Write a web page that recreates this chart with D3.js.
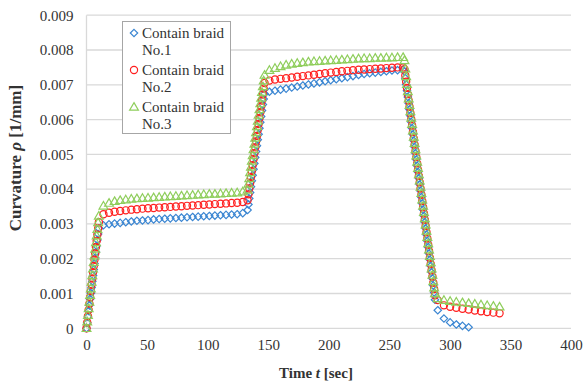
<!DOCTYPE html>
<html>
<head>
<meta charset="utf-8">
<script src="https://cdn.jsdelivr.net/npm/d3@7"></script>
<style>
  body { margin: 0; background: #fff; }
  svg { display: block; }
  svg text { font-family: "Liberation Serif", "DejaVu Serif", serif; }
</style>
</head>
<body>
<div id="chart"></div>
<script>
// time axis shared by the three runs [sec]
var timeSec = [
  0, 0.6, 1.2, 1.8, 2.4, 3.0, 3.6, 4.2, 4.8, 5.4, 6.0, 6.6, 7.2, 7.8, 8.4, 9.0, 9.6, 10.2,
  14, 18.6, 23.2, 27.8, 32.4, 37, 41.6, 46.2, 50.8, 55.4, 60, 64.6, 69.2, 73.8, 78.4, 83, 87.6, 92.2, 96.8, 101.4, 106, 110.6, 115.2, 119.8, 124.4, 129,
  133, 133.7, 134.4, 135.1, 135.8, 136.5, 137.2, 137.9, 138.6, 139.3, 140, 140.7, 141.4, 142.1, 142.8, 143.5, 144.2, 144.9, 145.6, 146.3, 147,
  151, 155.6, 160.2, 164.8, 169.4, 174, 178.6, 183.2, 187.8, 192.4, 197, 201.6, 206.2, 210.8, 215.4, 220, 224.6, 229.2, 233.8, 238.4, 243, 247.6, 252.2, 256.8, 261.4,
  262.5, 263.2, 263.9, 264.6, 265.3, 266, 266.7, 267.4, 268.1, 268.8, 269.5, 270.2, 270.9, 271.6, 272.3, 273, 273.7, 274.4, 275.1, 275.8, 276.5, 277.2, 277.9, 278.6, 279.3, 280, 280.7, 281.4, 282.1, 282.8, 283.5, 284.2, 284.9, 285.6, 286.3, 287, 287.7,
  290, 295.1, 300.2, 305.3, 310.4, 315.5, 320.6, 325.7, 330.8, 335.9, 341
];

var braid1 = [
  0, 0.00016, 0.00033, 0.00050, 0.00066, 0.00084, 0.00101, 0.00117, 0.00135, 0.00152, 0.00169, 0.00186, 0.00203, 0.00219, 0.00237, 0.00254, 0.00271, 0.00287,
  0.00296, 0.00299, 0.00301, 0.00303, 0.00305, 0.00307, 0.00309, 0.00310, 0.00311, 0.00313, 0.00314, 0.00315, 0.00316, 0.00317, 0.00318, 0.00319, 0.00320, 0.00321, 0.00322, 0.00323, 0.00324, 0.00325, 0.00326, 0.00327, 0.00328, 0.00331,
  0.00340, 0.00356, 0.00373, 0.00390, 0.00407, 0.00424, 0.00440, 0.00457, 0.00474, 0.00491, 0.00508, 0.00525, 0.00542, 0.00558, 0.00575, 0.00592, 0.00609, 0.00626, 0.00643, 0.00659, 0.00674,
  0.00680, 0.00683, 0.00686, 0.00689, 0.00692, 0.00695, 0.00698, 0.00701, 0.00704, 0.00707, 0.00710, 0.00713, 0.00716, 0.00719, 0.00722, 0.00725, 0.00728, 0.00731, 0.00733, 0.00735, 0.00737, 0.00739, 0.00741, 0.00742, 0.00743,
  0.00738, 0.00719, 0.00701, 0.00683, 0.00665, 0.00647, 0.00629, 0.00611, 0.00593, 0.00575, 0.00557, 0.00539, 0.00521, 0.00503, 0.00485, 0.00467, 0.00449, 0.00431, 0.00413, 0.00395, 0.00377, 0.00359, 0.00341, 0.00323, 0.00305, 0.00287, 0.00269, 0.00251, 0.00233, 0.00215, 0.00197, 0.00179, 0.00161, 0.00143, 0.00123, 0.00103, 0.00082,
  0.00052, 0.00028, 0.00017, 0.00011, 0.00007, 0.00003, null, null, null, null, null
];

var braid2 = [
  0, 0.00017, 0.00035, 0.00053, 0.00071, 0.00089, 0.00107, 0.00125, 0.00143, 0.00161, 0.00179, 0.00197, 0.00215, 0.00233, 0.00251, 0.00269, 0.00287, 0.00305,
  0.00328, 0.00332, 0.00335, 0.00337, 0.00339, 0.00341, 0.00342, 0.00344, 0.00345, 0.00346, 0.00347, 0.00348, 0.00349, 0.00350, 0.00351, 0.00352, 0.00353, 0.00354, 0.00355, 0.00356, 0.00357, 0.00358, 0.00359, 0.00360, 0.00361, 0.00363,
  0.00368, 0.00385, 0.00402, 0.00418, 0.00435, 0.00452, 0.00469, 0.00486, 0.00503, 0.00520, 0.00537, 0.00553, 0.00570, 0.00587, 0.00604, 0.00621, 0.00638, 0.00655, 0.00672, 0.00689, 0.00705,
  0.00712, 0.00715, 0.00717, 0.00719, 0.00721, 0.00723, 0.00725, 0.00727, 0.00729, 0.00731, 0.00733, 0.00735, 0.00737, 0.00739, 0.00740, 0.00742, 0.00743, 0.00744, 0.00745, 0.00746, 0.00747, 0.00748, 0.00749, 0.00750, 0.00750,
  0.00745, 0.00727, 0.00709, 0.00691, 0.00673, 0.00655, 0.00637, 0.00619, 0.00601, 0.00583, 0.00564, 0.00546, 0.00528, 0.00510, 0.00492, 0.00474, 0.00456, 0.00438, 0.00420, 0.00402, 0.00384, 0.00366, 0.00348, 0.00330, 0.00312, 0.00294, 0.00276, 0.00258, 0.00240, 0.00222, 0.00203, 0.00185, 0.00167, 0.00149, 0.00131, 0.00113, 0.00095,
  0.00081, 0.00066, 0.00062, 0.00059, 0.00056, 0.00054, 0.00051, 0.00049, 0.00047, 0.00045, 0.00043
];

var braid3 = [
  0, 0.00019, 0.00038, 0.00057, 0.00076, 0.00095, 0.00114, 0.00133, 0.00152, 0.00171, 0.00190, 0.00209, 0.00228, 0.00247, 0.00266, 0.00285, 0.00304, 0.00323,
  0.00352, 0.00360, 0.00365, 0.00368, 0.00370, 0.00372, 0.00373, 0.00374, 0.00375, 0.00376, 0.00377, 0.00378, 0.00379, 0.00380, 0.00381, 0.00382, 0.00383, 0.00384, 0.00385, 0.00386, 0.00386, 0.00387, 0.00388, 0.00389, 0.00390, 0.00393,
  0.00398, 0.00415, 0.00431, 0.00448, 0.00464, 0.00481, 0.00497, 0.00514, 0.00530, 0.00547, 0.00563, 0.00580, 0.00596, 0.00613, 0.00629, 0.00646, 0.00662, 0.00679, 0.00695, 0.00712, 0.00728,
  0.00742, 0.00748, 0.00753, 0.00757, 0.00760, 0.00762, 0.00764, 0.00766, 0.00767, 0.00768, 0.00769, 0.00770, 0.00771, 0.00772, 0.00773, 0.00774, 0.00775, 0.00776, 0.00776, 0.00777, 0.00777, 0.00778, 0.00778, 0.00779, 0.00779,
  0.00770, 0.00746, 0.00724, 0.00702, 0.00681, 0.00660, 0.00641, 0.00623, 0.00605, 0.00587, 0.00568, 0.00550, 0.00532, 0.00514, 0.00496, 0.00478, 0.00460, 0.00442, 0.00424, 0.00406, 0.00388, 0.00370, 0.00352, 0.00334, 0.00316, 0.00298, 0.00280, 0.00262, 0.00244, 0.00226, 0.00207, 0.00189, 0.00171, 0.00153, 0.00135, 0.00117, 0.00100,
  0.00086, 0.00081, 0.00078, 0.00076, 0.00074, 0.00072, 0.00070, 0.00068, 0.00066, 0.00064, 0.00062
];

var xTicks = [0, 50, 100, 150, 200, 250, 300, 350, 400];
var yTicks = [0, 0.001, 0.002, 0.003, 0.004, 0.005, 0.006, 0.007, 0.008, 0.009];
var yTickLabels = ["0", "0.001", "0.002", "0.003", "0.004", "0.005", "0.006", "0.007", "0.008", "0.009"];
var seriesNames = ["Contain braid No.1", "Contain braid No.2", "Contain braid No.3"];

// marker shapes
var diamond = "M0,-3.7L3.7,0L0,3.7L-3.7,0Z";
var circle = "M3.6,0A3.6,3.6 0 1,1 -3.6,0A3.6,3.6 0 1,1 3.6,0Z";
var triangle = "M0,-4.4L4.4,3.2L-4.4,3.2Z";

var series = [
  {name: seriesNames[0], values: braid1, color: "#3b86d2", shape: diamond},
  {name: seriesNames[1], values: braid2, color: "#ff1f1f", shape: circle},
  {name: seriesNames[2], values: braid3, color: "#8fce5c", shape: triangle}
];

var serif = "Liberation Serif, DejaVu Serif, serif";

var margin = {top: 15.2, right: 14, bottom: 52.7, left: 86.5},
    width = 585 - margin.left - margin.right,
    height = 381 - margin.top - margin.bottom;

var svg = d3.select("#chart")
  .append("svg")
    .attr("width", 585)
    .attr("height", 381);

var g = svg.append("g")
    .attr("transform", "translate(" + margin.left + "," + margin.top + ")");

var x = d3.scaleLinear().domain([0, 400]).range([0, width]);
var y = d3.scaleLinear().domain([0, 0.009]).range([height, 0]);

// horizontal gridlines
g.append("g")
  .selectAll("line")
  .data(yTicks)
  .enter().append("line")
    .attr("x1", 0)
    .attr("x2", width)
    .attr("y1", function(d) { return y(d); })
    .attr("y2", function(d) { return y(d); })
    .attr("stroke", "#d9d9d9")
    .attr("stroke-width", 1.3);

// vertical axis line
g.append("line")
  .attr("x1", 0).attr("x2", 0)
  .attr("y1", y(0.009)).attr("y2", y(0))
  .attr("stroke", "#d9d9d9")
  .attr("stroke-width", 1.3);

// axes, labels only
var yAxis = g.append("g")
  .attr("font-family", serif)
  .call(d3.axisLeft(y).tickValues(yTicks).tickSize(0).tickPadding(13)
    .tickFormat(function(d, i) { return yTickLabels[i]; }));
yAxis.select(".domain").remove();
yAxis.selectAll("text")
  .style("font-family", serif)
  .style("font-size", "15px")
  .attr("fill", "#333");

var xAxis = g.append("g")
  .attr("font-family", serif)
  .attr("transform", "translate(0," + height + ")")
  .call(d3.axisBottom(x).tickValues(xTicks).tickSize(0).tickPadding(11));
xAxis.select(".domain").remove();
xAxis.selectAll("text")
  .style("font-family", serif)
  .style("font-size", "15px")
  .attr("fill", "#333");

// data markers
series.forEach(function(s) {
  var pts = timeSec.map(function(t, i) { return {t: t, v: s.values[i]}; })
    .filter(function(d) { return d.v !== null; });
  g.append("g")
    .selectAll("path")
    .data(pts)
    .enter().append("path")
      .attr("d", s.shape)
      .attr("transform", function(d) { return "translate(" + x(d.t) + "," + y(d.v) + ")"; })
      .attr("fill", "none")
      .attr("stroke", s.color)
      .attr("stroke-width", 1.2);
});

// axis titles
var xt = svg.append("text")
  .attr("x", 316)
  .attr("y", 378)
  .attr("text-anchor", "middle")
  .style("font-size", "15px")
  .attr("font-weight", "bold")
  .attr("fill", "#333");
xt.append("tspan").text("Time ");
xt.append("tspan").attr("font-style", "italic").text("t");
xt.append("tspan").text(" [sec]");

var yt = svg.append("text")
  .attr("transform", "translate(21,158) rotate(-90)")
  .attr("text-anchor", "middle")
  .style("font-size", "17px")
  .attr("font-weight", "bold")
  .attr("fill", "#333");
yt.append("tspan").text("Curvature ");
yt.append("tspan").attr("font-style", "italic").text("ρ");
yt.append("tspan").text(" [1/mm]");

// legend
var legend = svg.append("g");
legend.append("rect")
  .attr("x", 122.5).attr("y", 21.5)
  .attr("width", 108).attr("height", 112)
  .attr("fill", "#fff")
  .attr("stroke", "#a6a6a6")
  .attr("stroke-width", 1);

series.forEach(function(s, i) {
  var top = 33 + i * 37;
  legend.append("path")
    .attr("d", s.shape)
    .attr("transform", "translate(134," + top + ")")
    .attr("fill", "none")
    .attr("stroke", s.color)
    .attr("stroke-width", 1.2);
  var words = s.name.split(" ");
  legend.append("text")
    .attr("x", 142).attr("y", top + 5)
    .style("font-size", "15px").attr("fill", "#333")
    .text(words.slice(0, 2).join(" "));
  legend.append("text")
    .attr("x", 142).attr("y", top + 22)
    .style("font-size", "15px").attr("fill", "#333")
    .text(words[2]);
});
</script>
</body>
</html>
